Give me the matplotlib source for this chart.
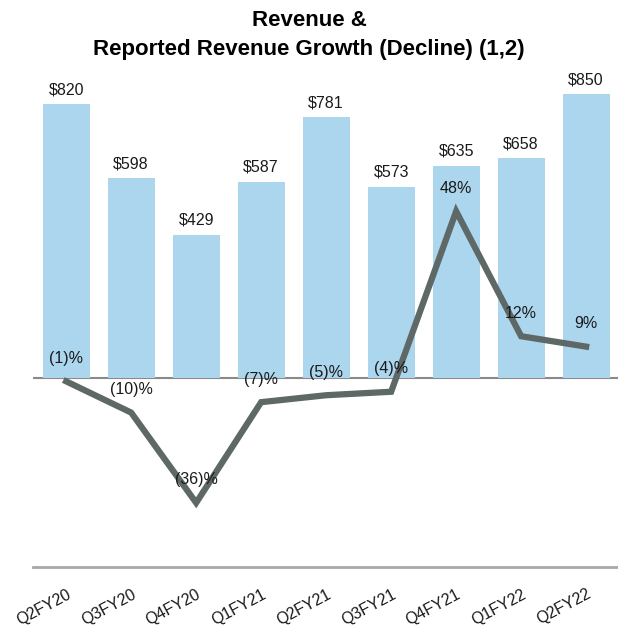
import numpy as np
import matplotlib.pyplot as plt

plt.rcParams['font.family'] = ['Liberation Sans', 'DejaVu Sans']

quarters = ['Q2FY20', 'Q3FY20', 'Q4FY20', 'Q1FY21', 'Q2FY21',
            'Q3FY21', 'Q4FY21', 'Q1FY22', 'Q2FY22']
revenue = [820, 598, 429, 587, 781, 573, 635, 658, 850]
growth = [-1, -10, -36, -7, -5, -4, 48, 12, 9]


def fmt_pct(v):
    return f'({abs(v)})%' if v < 0 else f'{v}%'


fig = plt.figure(figsize=(6.18, 6.28), dpi=100)
ax = fig.add_axes([33 / 618, (628 - 567) / 628, 1 - 33 / 618, (567 - 60) / 628])
x = np.arange(len(quarters))

ax.axhline(0, color='#8a8a8a', linewidth=1.5, zorder=1)
ax.bar(x, revenue, width=0.72, color='#acd5ee', zorder=2)
for xi, v in zip(x, revenue):
    ax.annotate(f'${v}', (xi, v), xytext=(0, 7), textcoords='offset pixels',
                ha='center', va='bottom', fontsize=11.5, color='#1a1a1a')

ax.set_xlim(-0.51, 8.49)
ax.set_ylim(-566, 952)
for s in ['top', 'right', 'left']:
    ax.spines[s].set_visible(False)
ax.spines['bottom'].set_color('#a8a8a8')
ax.spines['bottom'].set_linewidth(2)
ax.set_yticks([])
ax.set_xticks(x)
ax.set_xticklabels(quarters, rotation=28, ha='right', rotation_mode='anchor',
                   fontsize=11.5, color='#1a1a1a')
ax.tick_params(axis='x', length=0, pad=14)

ax2 = ax.twinx()
ax2.set_ylim(-54.5, 91.6)
ax2.plot(x, growth, color='#5e6867', linewidth=4.5, solid_joinstyle='miter', zorder=3)
for xi, v in zip(x, growth):
    ax2.annotate(fmt_pct(v), (xi, v), xytext=(0, 23), textcoords='offset pixels',
                 ha='center', va='center', fontsize=11.5, color='#1a1a1a')
ax2.set_yticks([])
for s in ax2.spines.values():
    s.set_visible(False)

fig.text(0.5, 1 - 21 / 628, 'Revenue &', ha='center', va='center',
         fontsize=16, fontweight='bold')
fig.text(0.5, 1 - 49 / 628, 'Reported Revenue Growth (Decline) (1,2)', ha='center',
         va='center', fontsize=16, fontweight='bold')

fig.savefig('out.png', dpi=100)
